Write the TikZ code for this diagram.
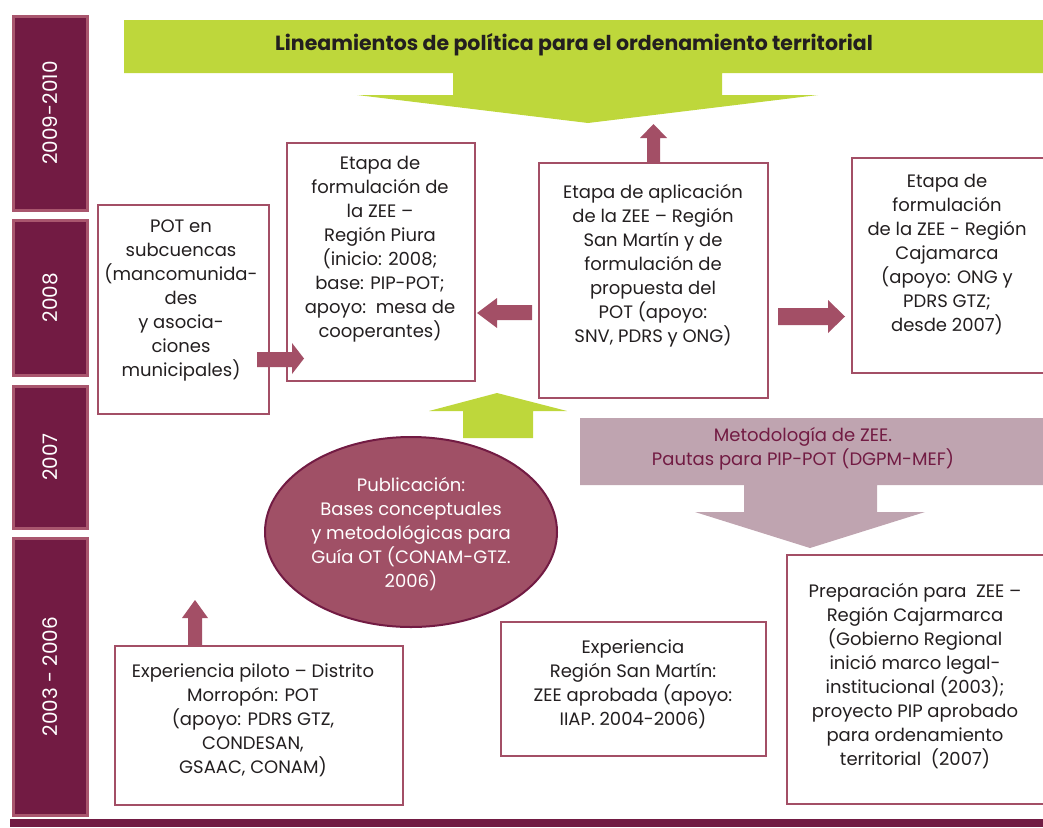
\documentclass[tikz,border=0pt]{standalone}
\usepackage{fontspec}
\setmainfont{Poppins}
\definecolor{plum}{HTML}{721B43}
\definecolor{rose}{HTML}{A34F66}
\definecolor{barrim}{HTML}{A9566E}
\definecolor{lime}{HTML}{BED73B}
\definecolor{lilac}{HTML}{BFA4B0}
\definecolor{berry}{HTML}{A05066}
\definecolor{ink}{HTML}{231F20}
\tikzset{
  yearbar/.style={draw=barrim, fill=plum, line width=3pt, anchor=north west, inner sep=0pt},
  yeartext/.style={text=white, rotate=90, font=\fontsize{20}{22}\selectfont},
  frame/.style={draw=rose, fill=white, line width=2.2pt, anchor=north west, inner sep=0pt},
  txt/.style={align=center, text=ink, font=\fontsize{18}{24}\selectfont, inner sep=0pt},
  blockarrow/.style={fill=rose, draw=none},
}
\begin{document}
\begin{tikzpicture}[x=1pt, y=-1pt]
\useasboundingbox (0,0) rectangle (1043,827);

% year column
\node[yearbar, minimum width=74pt, minimum height=194pt] (y1) at (11.5,14.5) {};
\node[yearbar, minimum width=74pt, minimum height=155pt] (y2) at (11.5,218.5) {};
\node[yearbar, minimum width=74pt, minimum height=142pt] (y3) at (11.5,384.5) {};
\node[yearbar, minimum width=74pt, minimum height=277pt] (y4) at (11.5,536.5) {};
\node[yeartext] (t1) at (y1.center) {2009-2010};
\node[yeartext] (t2) at (y2.center) {2008};
\node[yeartext] (t3) at (y3.center) {2007};
\node[yeartext] (t4) at (y4.center) {2003 - 2006};

% bottom rule
\fill[plum] (10,819) rectangle (1043,827);

% green banner with its downward arrow
\fill[lime] (124,20) -- (1043,20) -- (1043,73) -- (722,73) -- (722,95) -- (818,95)
  -- (588,123) -- (357,95) -- (453,95) -- (453,73) -- (124,73) -- cycle;
\node[font=\fontsize{20.5}{24}\selectfont\bfseries, text=ink] (title) at (574,45)
  {Lineamientos de política para el ordenamiento territorial};

% boxes
\node[frame, minimum width=171pt, minimum height=209pt] (pot) at (97,204) {};
\node[frame, minimum width=188pt, minimum height=238pt] (piura) at (286,142) {};
\node[frame, minimum width=229pt, minimum height=235pt] (sanmartin) at (538,162) {};
\node[frame, minimum width=195pt, minimum height=215pt] (caja) at (851,157) {};
\node[frame, minimum width=260pt, minimum height=249pt] (prep) at (786,554) {};
\node[frame, minimum width=288pt, minimum height=159pt] (piloto) at (114,645) {};
\node[frame, minimum width=265pt, minimum height=134pt] (expsm) at (500,621) {};

\node[txt] (potT) at (181,300) {POT en\\subcuencas\\(mancomunida-\\des\\y asocia-\\ciones\\municipales)};
\node[txt] (piuraT) at (380,249) {Etapa de\\formulación de\\la ZEE –\\Región Piura\\(inicio: 2008;\\base: PIP-POT;\\apoyo:\ \ mesa de\\cooperantes)};
\node[txt] (smT) at (653,266) {Etapa de aplicación\\de la ZEE – Región\\San Martín y de\\formulación de\\propuesta del\\POT (apoyo:\\SNV, PDRS y ONG)};
\node[txt] (cajaT) at (947,255) {Etapa de\\formulación\\de la ZEE - Región\\Cajamarca\\(apoyo: ONG y\\PDRS GTZ;\\desde 2007)};
\node[txt] (pilotoT) at (253,720) {Experiencia piloto – Distrito\\Morropón: POT\\(apoyo: PDRS GTZ,\\CONDESAN,\\GSAAC, CONAM)};
\node[txt] (expsmT) at (633,684) {Experiencia\\Región San Martín:\\ZEE aprobada (apoyo:\\IIAP. 2004-2006)};
\node[txt] (prepT) at (915,676) {Preparación para\ \ ZEE –\\Región Cajarmarca\\(Gobierno Regional\\inició marco legal-\\institucional (2003);\\proyecto PIP aprobado\\para ordenamiento\\territorial\ \ (2007)};

% publication ellipse
\fill[berry, draw=plum, line width=2pt] (411,532) ellipse [x radius=146pt, y radius=95pt];
\node[txt, text=white] (pub) at (411,534) {Publicación:\\Bases conceptuales\\y metodológicas para\\Guía OT (CONAM-GTZ.\\2006)};

% methodology banner with its downward arrow
\fill[lilac] (580,418) -- (1043,418) -- (1043,485) -- (877,485) -- (877,512) -- (925,512)
  -- (810,548) -- (695,512) -- (744,512) -- (744,485) -- (580,485) -- cycle;
\node[txt, text=plum] (met) at (803,449) {Metodología de ZEE.\\Pautas para PIP-POT (DGPM-MEF)};

% green upward arrow into the Piura stage
\fill[lime] (463,438) -- (463,411) -- (429,411) -- (497,393) -- (567,411) -- (533,411) -- (533,438) -- cycle;

% block arrows between stages
\fill[blockarrow] (sanmartin.north -| 647,0) -- (647,138) -- (640,138) -- (653.5,124) -- (667,138) -- (660,138) -- (sanmartin.north -| 660,0) -- cycle;
\fill[blockarrow] (532,305) -- (497,305) -- (497,298) -- (477,313) -- (497,328) -- (497,320) -- (532,320) -- cycle;
\fill[blockarrow] (778,308) -- (828,308) -- (828,300) -- (845,316.5) -- (828,333) -- (828,325) -- (778,325) -- cycle;
\fill[blockarrow] (257,352) -- (292,352) -- (292,343) -- (304,358.5) -- (292,374) -- (292,367) -- (257,367) -- cycle;
\fill[blockarrow] (piloto.north -| 188,0) -- (188,618) -- (182,618) -- (195,600) -- (208,618) -- (202,618) -- (piloto.north -| 202,0) -- cycle;
\end{tikzpicture}
\end{document}
